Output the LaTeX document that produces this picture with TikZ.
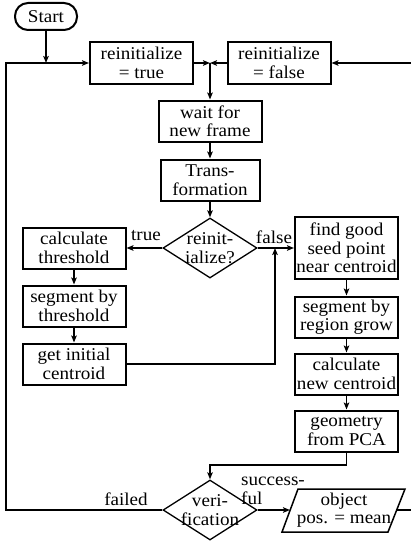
\documentclass[tikz,border=0pt]{standalone}
\usepackage{fontspec}
\setmainfont{Liberation Serif}[FakeStretch=1.06]
\usetikzlibrary{shapes.geometric,arrows.meta}
\begin{document}
\begin{tikzpicture}[x=1pt,y=-1pt,
 font=\fontsize{18}{18.5}\selectfont,
 box/.style={draw,line width=2pt,minimum width=103pt,minimum height=41pt,inner sep=0pt,align=center},
 dia/.style={draw,diamond,line width=1.3pt,minimum width=94pt,minimum height=60pt,inner sep=0pt},
 txt/.style={align=center,inner sep=0pt},
 conn/.style={line width=1.4pt},
 arr/.style={conn,-{Stealth[length=7pt,width=5.5pt,inset=1.5pt]}},
 lbl/.style={inner sep=0pt}]
\useasboundingbox (0,0) rectangle (411,543);
\node[draw,line width=2pt,rounded corners=13pt,minimum width=62pt,minimum height=27pt,inner sep=0pt] (start) at (46,16.5) {Start};
\node[box] (r1) at (141.5,63) {reinitialize\\= true};
\node[box] (r2) at (279,63) {reinitialize\\= false};
\coordinate (jt) at (46,63);
\coordinate (jm) at (210,63);
\node[box] (wait) at (210,121) {wait for\\new frame};
\node[box,minimum width=99pt] (trans) at (210,180) {Trans-\\formation};
\node[dia] (d1) at (210,248) {};
\node[txt] (d1t) at (d1) {reinit-\\ialize?};
\node[box] (ct) at (74,248) {calculate\\threshold};
\node[box,minimum height=62pt] (fg) at (346.5,248) {find good\\seed point\\near centroid};
\node[box] (sbt) at (74,306) {segment by\\threshold};
\node[box] (gic) at (74,364) {get initial\\centroid};
\node[box] (srg) at (346.5,317) {segment by\\region grow};
\node[box] (cnc) at (346.5,374) {calculate\\new centroid};
\node[box] (geo) at (346.5,431) {geometry\\from PCA};
\node[dia] (d2) at (210,510) {};
\node[txt] (d2t) at (d2) {veri-\\fication};
\node[txt] (obj) at (344,510) {object\\pos. = mean};
\draw[line width=1.5pt] (298,489) -- (405,489) -- (388,532) -- (282,532) -- cycle;
\coordinate (objL) at (290,510);
\coordinate (objR) at (397,510);
\node[lbl] (ltrue) at (146,236) {true};
\node[lbl] (lfalse) at (274,237) {false};
\node[lbl] (lfail) at (126,499) {failed};
\node[lbl,anchor=west,align=left] (lsucc) at (241,491) {success-\\ful};
\draw[arr] (start.south) -- (jt);
\draw[arr] (d2.west) -- (6,510) -- (6,63) -- (r1.west);
\draw[arr] (objR) -- (415,510) -- (415,63) -- (r2.east);
\draw[arr] (r1.east) -- (jm);
\draw[arr] (r2.west) -- (jm);
\draw[arr] (jm) -- (wait.north);
\draw[arr] (wait) -- (trans);
\draw[arr] (trans) -- (d1);
\draw[arr] (d1) -- (ct);
\draw[arr] (d1) -- (fg);
\draw[arr] (ct) -- (sbt);
\draw[arr] (sbt) -- (gic);
\draw[arr] (gic.east) -- (275,364) -- (275,248);
\draw[arr] (fg) -- (srg);
\draw[arr] (srg) -- (cnc);
\draw[arr] (cnc) -- (geo);
\draw[arr] (geo.south) -- (346.5,465) -- (210,465) -- (d2.north);
\draw[arr] (d2.east) -- (objL);
\end{tikzpicture}
\end{document}
